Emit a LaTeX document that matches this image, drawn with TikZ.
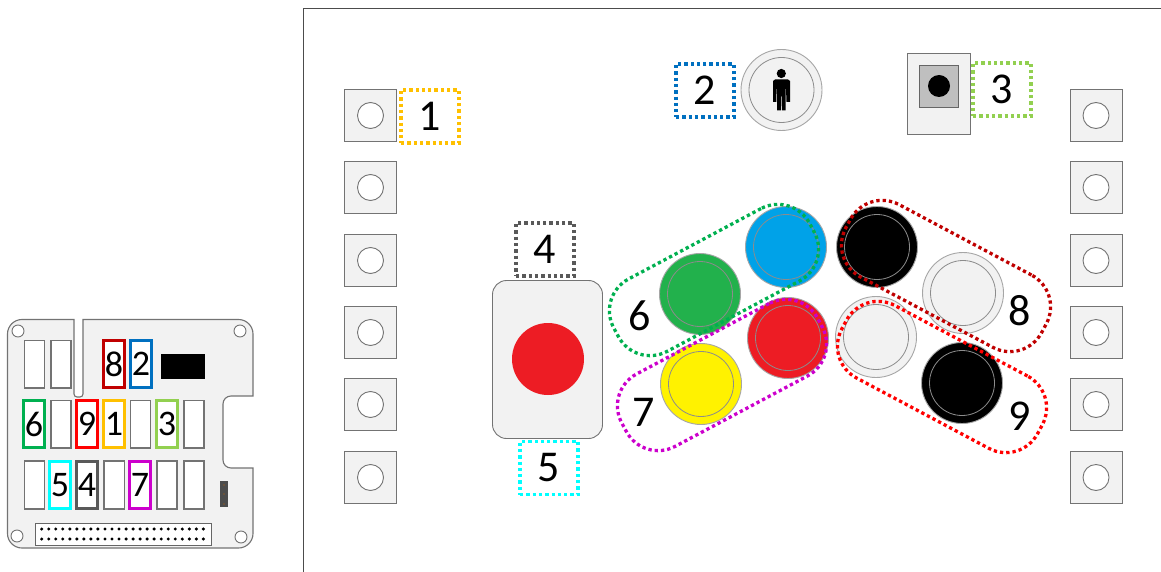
\documentclass[tikz,border=0pt]{standalone}
\usepackage{fontspec}
\setmainfont{Carlito}
\tikzset{
  x=1pt,y=-1pt,
  big/.style={font=\fontsize{44}{44}\selectfont,inner sep=0pt},
  small/.style={font=\fontsize{36}{36}\selectfont,inner sep=0pt},
  dotbox/.style={draw=#1,line width=3.3pt,dash pattern=on 3.3pt off 3pt,minimum width=58pt,minimum height=53pt,inner sep=0pt,font=\fontsize{44}{44}\selectfont},
  pill/.style n args={2}{draw=#1,line width=3.3pt,dash pattern=on 3.3pt off 3pt,rotate=#2,minimum width=222pt,minimum height=82pt,rounded corners=36pt,inner sep=0pt},
  squarebox/.style={draw=black!55,fill=black!5,line width=0.9pt,minimum size=52pt,inner sep=0pt},
  hole/.style={draw=black!55,fill=white,line width=0.9pt,circle,minimum size=26pt,inner sep=0pt},
  arcade/.style={draw=black!35,fill=#1,line width=0.9pt,circle,minimum size=81pt,inner sep=0pt},
  ring/.style={draw=black!45,line width=0.8pt,circle,minimum size=65pt,inner sep=0pt},
  slot/.style={draw=black!55,fill=white,line width=1.1pt},
  tag/.style={draw=#1,fill=white,line width=2.6pt},
  mount/.style={draw=black!55,fill=white,line width=0.9pt},
}
\definecolor{cOrange}{HTML}{FFC000}
\definecolor{cBlue}{HTML}{0070C0}
\definecolor{cLime}{HTML}{92D050}
\definecolor{cGray}{HTML}{595959}
\definecolor{cCyan}{HTML}{00FFFF}
\definecolor{cGreen}{HTML}{00B050}
\definecolor{cPurple}{HTML}{CC00CC}
\definecolor{cDark}{HTML}{C00000}
\definecolor{cRed}{HTML}{FF0000}
\definecolor{bGreen}{HTML}{22B14C}
\definecolor{bBlue}{HTML}{00A2E8}
\definecolor{bRed}{HTML}{ED1C24}
\definecolor{bYellow}{HTML}{FFF200}
\definecolor{bWhite}{HTML}{F2F2F2}
\begin{document}
\begin{tikzpicture}
\useasboundingbox (0,0) rectangle (1161,572);
\fill[white] (0,0) rectangle (1161,572);
% frame
\draw[black!70,line width=0.9pt] (303.5,572) -- (303.5,8.5) -- (1161,8.5);
% side squares
\foreach \n/\y in {a/115.5,b/187.5,c/260.5,d/332.5,e/404.5,f/477.5}{
  \node[squarebox] (l\n) at (370.5,\y) {};
  \node[hole] (lh\n) at (370.5,\y) {};
  \node[squarebox] (r\n) at (1096,\y) {};
  \node[hole] (rh\n) at (1096,\y) {};
}
% big box
\draw[black!55,fill=black!5,line width=0.9pt,rounded corners=14pt] (492.5,280.5) rectangle (602.5,438.5);
\node[circle,fill=bRed,minimum size=72pt,inner sep=0pt] (bigred) at (548,359) {};
% person button
\node[arcade=bWhite] (person) at (781.5,90) {};
\node[ring] (personring) at (781.5,90) {};
\fill[black] (781.3,73.5) circle (4.6);
\fill[black] (773,81) -- (775,79.5) -- (788,79.5) -- (790,81) -- (790,102) -- (786.5,102) -- (786,89) -- (785.5,89) -- (785.5,110.5) -- (781.8,110.5) -- (781.6,96) -- (781,96) -- (780.8,110.5) -- (777,110.5) -- (777,89) -- (776.6,89) -- (776.3,102) -- (773,102) -- cycle;
% reset switch
\draw[black!55,fill=black!5,line width=1pt] (907,53.5) rectangle (970.5,135);
\draw[black!60,fill=black!25,line width=1pt] (919,66) rectangle (958,108);
\node[circle,fill=black,minimum size=22pt,inner sep=0pt] (swdot) at (939,86) {};
% arcade buttons
\foreach \n/\c/\p in {g/bGreen/{700,294},b/bBlue/{786,247},r/bRed/{788,338},y/bYellow/{701,384},k/black/{877,247},w/bWhite/{963,293},v/bWhite/{876,337},j/black/{962,383}}{
  \node[arcade=\c] (btn\n) at (\p) {};
  \node[ring] (ring\n) at (\p) {};
}
% pills
\node[pill={cGreen}{28}] (pill6) at (714,280) {};
\node[pill={cPurple}{28}] (pill7) at (722,375) {};
\node[pill={cDark}{-28}] (pill8) at (946,276) {};
\node[pill={cRed}{-28}] (pill9) at (942,377) {};
\node[big] (n6) at (640,316) {6};
\node[big] (n7) at (644,412) {7};
\node[big] (n8) at (1020,311) {8};
\node[big] (n9) at (1020,416) {9};
% dotted tags
\node[dotbox=cOrange] (n1) at (430,116.5) {1};
\node[dotbox=cBlue] (n2) at (705,90.5) {2};
\node[dotbox=cLime] (n3) at (1002,89.5) {3};
\node[dotbox=cGray] (n4) at (545,249.5) {4};
\node[dotbox=cCyan] (n5) at (549,468) {5};
% board
\draw[black!55,fill=black!5,line width=1.1pt]
  (74,319.5) -- (22,319.5) arc[start angle=-90,end angle=-180,radius=14.5]
  -- (7.5,533.5) arc[start angle=180,end angle=90,radius=14.5]
  -- (238.5,548) arc[start angle=90,end angle=0,radius=14.5]
  -- (253,468) -- (231,468) arc[start angle=90,end angle=180,radius=8]
  -- (223,404) arc[start angle=180,end angle=270,radius=8]
  -- (253,396) -- (253,334) arc[start angle=0,end angle=-90,radius=14.5]
  -- (83,319.5) -- (83,394) arc[start angle=0,end angle=90,radius=3]
  -- (77,397) arc[start angle=90,end angle=180,radius=3] -- cycle;
\foreach \n/\p in {a/{18,331},b/{240,331},c/{17,536},d/{241,537}}{
  \node[circle,mount,minimum size=12pt,inner sep=0pt] (m\n) at (\p) {};
}
\foreach \a/\b/\c/\d in {24.5/340.5/44.5/388,51/340.5/71/388,51/400.5/71/448,130.5/400.5/150.5/448,184/400.5/204/448,24.5/461/44.5/509,104/461/124.5/509,157/461/177/509,184/461/204/509}{
  \draw[slot] (\a,\b) rectangle (\c,\d);
}
\foreach \a/\b/\c/\lab/\col in {103.5/340/388/8/cDark,130.5/340/388/2/cBlue,23.5/400.5/448/6/cGreen,76.5/400.5/448/9/cRed,103.5/400/448/1/cOrange,156.5/400/448/3/cLime,49.5/461/509/5/cCyan,76.5/461/509/4/cGray,129.5/461/509/7/cPurple}{
  \node[tag=\col,small,minimum width=21pt,minimum height=47pt] (t\lab) at ({\a+10.5},{(\b+\c)/2}) {\lab};
}
\fill[black] (161,354) rectangle (205,379);
\fill[black!70] (220,481) rectangle (228,507);
\foreach \y in {485,494,504}{\fill[orange!80!black] (224,\y) circle (0.6);}
\draw[black!60,fill=white,line width=1pt] (35.5,523.5) rectangle (211,545);
\foreach \i in {0,...,23}{
  \fill[black] ({41.7+\i*7.03},529) circle (1.7);
  \fill[black] ({41.7+\i*7.03},539) circle (1.7);
}
\end{tikzpicture}
\end{document}
